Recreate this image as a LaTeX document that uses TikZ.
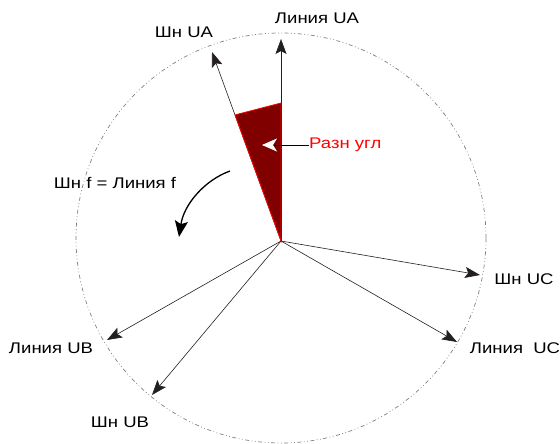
\documentclass[tikz,border=0pt]{standalone}
\usepackage{fontspec}
\setmainfont{Liberation Sans}[FakeStretch=1.2]
\usetikzlibrary{calc,arrows.meta}
\definecolor{ink}{RGB}{35,31,32}
\definecolor{wedgered}{RGB}{128,0,0}

\begin{document}
\begin{tikzpicture}[>={Stealth[length=15bp, width=11bp, inset=3bp]}, x=1bp, y=-1bp,
  font=\fontsize{15.5}{18}\selectfont,
  vec/.style={->, draw=ink, line width=0.6bp},
  lbl/.style={inner sep=0pt, text=black},
  rim/.style={gray, line width=0.7bp, dash pattern=on 4bp off 2.5bp on 0.8bp off 2.5bp on 0.8bp off 2.5bp}]
  \useasboundingbox (0,0) rectangle (560,444);
  % origin of all vectors and the rim
  \coordinate (O) at (281,241);
  \coordinate (rimC) at (281,238);
  \draw[rim] (rimC) circle (205bp);
  % ---------------------------------------------------------------- vector tips
  \coordinate (tLinA) at (281,39);
  \coordinate (tShA) at (212,52);
  \coordinate (tShC) at (480,275);
  \coordinate (tLinC) at (457,342);
  \coordinate (tLinB) at (107,340);
  \coordinate (tShB) at (152,395);
  \foreach \t in {tLinA,tShA,tShC,tLinC,tLinB,tShB}
    \draw[vec] (O) -- (\t);
  % ---------------------------------------------------------------- angle wedge
  \coordinate (wTop) at (281,103);
  \coordinate (wLeft) at ($(O)!0.667!(tShA)$);
  \filldraw[fill=wedgered, draw=red, line width=0.8bp] (O) -- (wTop) -- (wLeft) -- cycle;
  \node[lbl, text=red, anchor=west] (diff) at (309,145) {Разн угл};
  \coordinate (diffTip) at (262,145);
  \draw[-{Stealth[length=15bp, width=13bp, inset=4bp, color=white, fill=white]}, line width=0.8bp] (diff.west) -- (diffTip);
  % ---------------------------------------------------------------- labels
  \node[lbl] (linA) at (317,18) {Линия UA};
  \node[lbl] (shA) at (184,32) {Шн UA};
  \node[lbl] (shC) at (524,279) {Шн UC};
  \node[lbl] (linC) at (515,348) {Линия\ \ UC};
  \node[lbl] (linB) at (51,348) {Линия UB};
  \node[lbl] (shB) at (120,422) {Шн UB};
  \node[lbl] (freq) at (115,183) {Шн f = Линия f};
  % rotation sense
  \coordinate (rotS) at (230,171);
  \coordinate (rotE) at (179,237);
  \draw[-{Stealth[length=16bp, width=13bp, inset=3bp]}, line width=1.3bp] (rotS) .. controls (205,180) and (184,204) .. (rotE);
\end{tikzpicture}
\end{document}
